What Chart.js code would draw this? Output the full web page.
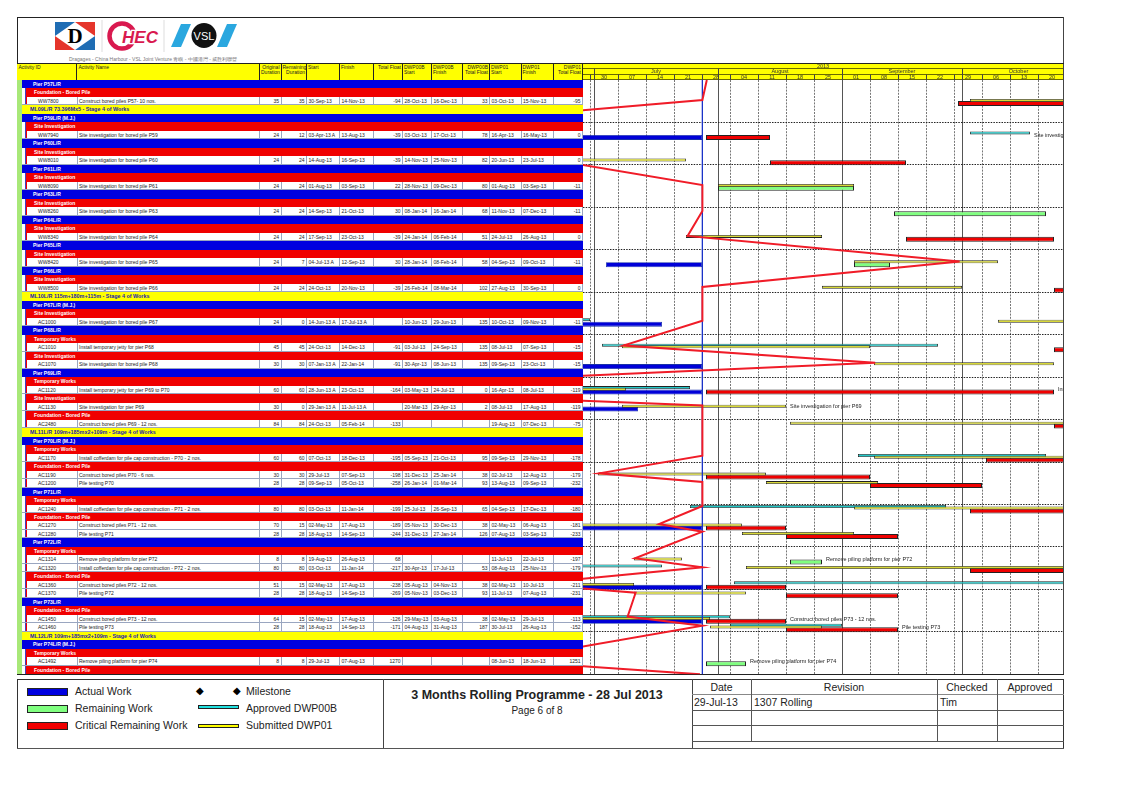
<!DOCTYPE html>
<html><head><meta charset="utf-8">
<script src="https://cdn.jsdelivr.net/npm/chart.js@4"></script>
<style>
html,body{margin:0;padding:0;background:#fff;width:1123px;height:794px;overflow:hidden;font-family:"Liberation Sans",Arial,sans-serif}
#page{position:absolute;left:0;top:0;width:1123px;height:794px}
.a{position:absolute;white-space:nowrap}
#chart{position:absolute;left:0;top:0;z-index:5}
.r{position:absolute;left:22px;width:561px;height:8.5px;line-height:8.5px;font-size:5px;overflow:hidden}
.c{position:absolute;top:0;height:100%;white-space:nowrap;color:#222;box-sizing:border-box;padding:0 1.5px;border-right:.5px solid #9aa6c0}
.h{position:absolute;top:64px;height:16px;font-size:5px;line-height:5.4px;color:#222;border-right:.7px solid #222;box-sizing:border-box;padding:1px;z-index:2}
.leg{position:absolute;font-size:10.5px;color:#222;white-space:nowrap}
</style></head><body>
<div id="page">
<svg class="a" style="left:50px;top:18px" width="200" height="38" viewBox="50 18 200 38">
  <rect x="55" y="22" width="40" height="28" fill="#fff"/>
  <polygon points="55,22 75,22 55,36" fill="#1f6db4"/><polygon points="75,22 95,22 95,36" fill="#e5352b"/>
  <polygon points="55,36 75,50 55,50" fill="#e5352b"/><polygon points="95,36 95,50 75,50" fill="#1f6db4"/>
  <text x="75" y="43" font-family="Liberation Serif" font-weight="bold" font-size="21" text-anchor="middle">D</text>
  <line x1="102" y1="20" x2="102" y2="52" stroke="#ddd"/>
  <ellipse cx="122" cy="36" rx="12.5" ry="12.5" fill="none" stroke="#d9194f" stroke-width="4.5"/>
  <text x="140" y="42.5" font-family="Liberation Sans" font-weight="bold" font-style="italic" font-size="17" fill="#d9194f" text-anchor="middle" stroke="#fff" stroke-width="2.5" paint-order="stroke">HEC</text>
  <line x1="164" y1="20" x2="164" y2="52" stroke="#ddd"/>
  <polygon points="181,24 191,24 181,47 171,47" fill="#2aa7df"/>
  <polygon points="227,24 237,24 227,47 217,47" fill="#2aa7df"/>
  <circle cx="204" cy="35.5" r="12.5" fill="#111"/>
  <text x="204" y="39.5" font-family="Liberation Sans" font-size="11" fill="#fff" text-anchor="middle">VSL</text>
</svg>
<div class="a" style="left:69px;top:55.5px;font-size:5px;color:#777">Dragages - China Harbour - VSL Joint Venture 青嶼 - 中國港灣 - 威胜利聯營</div>
<div id="table"></div>
<div id="foot"></div>
</div>
<canvas id="chart" width="1123" height="794"></canvas>
<script>
// ---- Rows of the schedule, top to bottom
const rowKinds = "PSAMPSAPSAPSAPSAPSAPSAPSAMPSAPSASAPSASASAMPSASAAPSASAAPSAASAAPSAAMPSAS".split("");
const bandTitles = ["Pier P57L/R","Foundation - Bored Pile","ML09L/R 73.396Mx5 - Stage 4 of Works","Pier P59L/R (M.J.)","Site Investigation","Pier P60L/R","Site Investigation","Pier P61L/R","Site Investigation","Pier P63L/R","Site Investigation","Pier P64L/R","Site Investigation","Pier P65L/R","Site Investigation","Pier P66L/R","Site Investigation","ML10L/R 115m+180m+115m - Stage 4 of Works","Pier P67L/R (M.J.)","Site Investigation","Pier P68L/R","Temporary Works","Site Investigation","Pier P69L/R","Temporary Works","Site Investigation","Foundation - Bored Pile","ML11L/R 109m+185mx2+109m - Stage 4 of Works","Pier P70L/R (M.J.)","Temporary Works","Foundation - Bored Pile","Pier P71L/R","Temporary Works","Foundation - Bored Pile","Pier P72L/R","Temporary Works","Foundation - Bored Pile","Pier P73L/R","Foundation - Bored Pile","ML12L/R 109m+185mx2+109m - Stage 4 of Works","Pier P74L/R (M.J.)","Temporary Works","Foundation - Bored Pile"];

// ---- Activity table columns
const activityIds = ["WW7800","WW7940","WW8010","WW8090","WW8260","WW8340","WW8420","WW8500","AC1000","AC1010","AC1070","AC1120","AC1130","AC2480","AC1170","AC1190","AC1200","AC1240","AC1270","AC1280","AC1314","AC1320","AC1360","AC1370","AC1450","AC1460","AC1492"];
const activityNames = ["Construct bored piles P57- 10 nos.","Site investigation for bored pile P59","Site investigation for bored pile P60","Site investigation for bored pile P61","Site investigation for bored pile P63","Site investigation for bored pile P64","Site investigation for bored pile P65","Site investigation for bored pile P66","Site investigation for bored pile P67","Install temporary jetty for pier P68","Site investigation for bored pile P68","Install temporary jetty for pier P69 to P70","Site investigation for pier P69","Construct bored piles P69 - 12 nos.","Install cofferdam for pile cap construction - P70 - 2 nos.","Construct bored piles P70 - 6 nos.","Pile testing P70","Install cofferdam for pile cap construction - P71 - 2 nos.","Construct bored piles P71 - 12 nos.","Pile testing P71","Remove piling platform for pier P72","Install cofferdam for pile cap construction - P72 - 2 nos.","Construct bored piles P72 - 12 nos.","Pile testing P72","Construct bored piles P73 - 12 nos.","Pile testing P73","Remove piling platform for pier P74"];
const originalDuration = [35,24,24,24,24,24,24,24,24,45,30,60,30,84,60,30,28,80,70,28,8,80,51,28,64,28,8];
const remainingDuration = [35,12,24,24,24,24,7,24,0,45,30,60,0,84,60,30,28,80,15,28,8,80,15,28,15,28,8];
const startDates = ["30-Sep-13","03-Apr-13 A","14-Aug-13","01-Aug-13","14-Sep-13","17-Sep-13","04-Jul-13 A","24-Oct-13","14-Jun-13 A","24-Oct-13","07-Jan-13 A","28-Jun-13 A","29-Jan-13 A","24-Oct-13","07-Oct-13","29-Jul-13","09-Sep-13","03-Oct-13","02-May-13","18-Aug-13","19-Aug-13","03-Oct-13","02-May-13","18-Aug-13","02-May-13","18-Aug-13","29-Jul-13"];
const finishDates = ["14-Nov-13","13-Aug-13","16-Sep-13","03-Sep-13","21-Oct-13","23-Oct-13","12-Sep-13","20-Nov-13","17-Jul-13 A","14-Dec-13","22-Jan-14","23-Oct-13","11-Jul-13 A","05-Feb-14","18-Dec-13","07-Sep-13","05-Oct-13","11-Jan-14","17-Aug-13","14-Sep-13","26-Aug-13","11-Jan-14","17-Aug-13","14-Sep-13","17-Aug-13","14-Sep-13","07-Aug-13"];
const totalFloat = ["-94","-39","-39","22","30","-39","30","-39","","-91","-91","-164","","-133","-195","-198","-258","-199","-189","-244","68","-217","-238","-269","-126","-171","1270"];
const dwp00bStart = ["28-Oct-13","03-Oct-13","14-Nov-13","28-Nov-13","08-Jan-14","24-Jan-14","28-Jan-14","26-Feb-14","10-Jun-13","03-Jul-13","30-Apr-13","03-May-13","20-Mar-13","","05-Sep-13","31-Dec-13","26-Jan-14","25-Jul-13","05-Nov-13","31-Dec-13","","30-Apr-13","05-Aug-13","05-Nov-13","29-May-13","04-Aug-13",""];
const dwp00bFinish = ["16-Dec-13","17-Oct-13","25-Nov-13","09-Dec-13","16-Jan-14","06-Feb-14","08-Feb-14","08-Mar-14","29-Jun-13","24-Sep-13","08-Jun-13","24-Jul-13","29-Apr-13","","21-Oct-13","25-Jan-14","01-Mar-14","26-Sep-13","30-Dec-13","27-Jan-14","","17-Jul-13","04-Nov-13","03-Dec-13","03-Aug-13","31-Aug-13",""];
const dwp00bFloat = ["33","78","82","80","68","51","58","102","135","135","135","0","2","","95","38","93","65","38","126","","53","38","93","38","187",""];
const dwp01Start = ["03-Oct-13","16-Apr-13","20-Jun-13","01-Aug-13","11-Nov-13","24-Jul-13","04-Sep-13","27-Aug-13","10-Oct-13","08-Jul-13","09-Sep-13","16-Apr-13","08-Jul-13","19-Aug-13","09-Sep-13","02-Jul-13","13-Aug-13","04-Sep-13","02-May-13","07-Aug-13","11-Jul-13","08-Aug-13","02-May-13","11-Jul-13","02-May-13","30-Jul-13","08-Jun-13"];
const dwp01Finish = ["15-Nov-13","16-May-13","23-Jul-13","03-Sep-13","07-Dec-13","26-Aug-13","09-Oct-13","30-Sep-13","09-Nov-13","07-Sep-13","23-Oct-13","08-Jul-13","17-Aug-13","07-Dec-13","29-Nov-13","12-Aug-13","09-Sep-13","17-Dec-13","06-Aug-13","03-Sep-13","22-Jul-13","25-Nov-13","10-Jul-13","07-Aug-13","29-Jul-13","26-Aug-13","18-Jun-13"];
const dwp01Float = ["-95","0","0","-11","-11","0","-11","0","-11","-15","-15","-119","-119","-75","-178","-179","-232","-180","-181","-233","-197","-179","-211","-231","-113","-152","1251"];

// ---- Bars on the time line
const dataDate = "28-Jul-13";
const actualIds = ["WW7940","WW8420","AC1000","AC1070","AC1120","AC1130","AC1270","AC1360","AC1450"];
const actualFinish = [dataDate,dataDate,"17-Jul-13",dataDate,dataDate,"11-Jul-13",dataDate,dataDate,dataDate];
const remainingIds = ["WW8090","WW8260","WW8420","AC1314","AC1492"];
const remainingStart = ["01-Aug-13","14-Sep-13","04-Sep-13","19-Aug-13","29-Jul-13"];
const criticalIds = ["WW7800","WW7940","WW8010","WW8340","WW8500","AC1010","AC1120","AC2480","AC1170","AC1190","AC1200","AC1240","AC1270","AC1280","AC1320","AC1360","AC1370","AC1450","AC1460"];
const criticalStart = ["30-Sep-13","29-Jul-13","14-Aug-13","17-Sep-13","24-Oct-13","24-Oct-13","29-Jul-13","24-Oct-13","07-Oct-13","29-Jul-13","08-Sep-13","03-Oct-13","29-Jul-13","18-Aug-13","03-Oct-13","29-Jul-13","18-Aug-13","29-Jul-13","18-Aug-13"];
const labelledIds = ["WW7940","AC1120","AC1130","AC1314","AC1450","AC1460","AC1492"];

// ---- Progress line (days after 1 Jul 2013, row position)
const progressDays = [28.2,27.1,-76,-11,27.1,27.1,23.4,91.4,27.1,27.1,7.35,70.3,-76,27.1,27.1,1.3,27.1,27.1,16.25,27.1,10.25,27.1,-16.25,10.4,8.4,27.1,-23,26.5];
const progressRows = [0,2.36,6.48,9.36,12.37,15.43,18.37,21.38,24.38,28.35,31.28,33.3,36.4,38.34,44.25,46.33,47.35,50.18,52.3,53.2,56.34,57.4,59.36,60.39,63.2,64.27,68.4,70];

// ---- Time axis
const weekStarts = ["30-Jun-13","07-Jul-13","14-Jul-13","21-Jul-13","28-Jul-13","04-Aug-13","11-Aug-13","18-Aug-13","25-Aug-13","01-Sep-13","08-Sep-13","15-Sep-13","22-Sep-13","29-Sep-13","06-Oct-13","13-Oct-13","20-Oct-13"];
const weekLabels = ["30","07","14","21","28","04","11","18","25","01","08","15","22","29","06","13","20"];
const monthStarts = ["01-Jul-13","01-Aug-13","01-Sep-13","01-Oct-13"];
const monthLabels = ["July","August","September","October"];
const yearLabel = "2013";

const MON={Jan:0,Feb:1,Mar:2,Apr:3,May:4,Jun:5,Jul:6,Aug:7,Sep:8,Oct:9,Nov:10,Dec:11};
function day(s){const m=s.match(/(\d+)-(\w+)-(\d+)/);return (Date.UTC(2000+ +m[3],MON[m[2]],+m[1])-Date.UTC(2013,6,1))/864e5;}

// layout constants
const ROW_TOP=80, ROW_H=8.49, X_L=583, X_R=1063, BOT=ROW_TOP+70*ROW_H;
const colX=[22,77.5,260,281.5,307,340,374,403,432,463,490,521.5,554,583];

const rowOf={}; { let a=0; rowKinds.forEach((k,i)=>{ if(k==='A'){rowOf[activityIds[a++]]=i;} }); }
const idx=id=>activityIds.indexOf(id);

// ---- table as real text
(function(){
 const t=document.getElementById('table'); let html='';
 const add=(x,y,w,h,c,extra)=>`<div class="a" style="left:${x}px;top:${y}px;width:${w}px;height:${h}px;background:${c};${extra||''}"></div>`;
 html+=add(17,17,1046.5,.8,'#222')+add(16.6,17,.8,657.5,'#222')+add(1063,17,1,657.5,'#444')+add(17,674,1047,1,'#222')+add(17,63,1046.5,.9,'#222');
 html+=add(17.4,64,565.6,16,'#ffff00')+add(583,64,480,16,'#ffff00');
 html+=add(17.4,80,4.4,594,'#a8e878');
 html+=add(583,68,480,.7,'#6b6b00')+add(583,73.8,480,.8,'#6b6b00')+add(583,79.4,480,1,'#6b6b00')+add(582,64,1.2,16,'#222');
 const heads=[["Activity ID","l",17.4],["Activity Name","l",77.5],["Original<br>Duration","r",260],["Remaining<br>Duration","r",281.5],["Start","l",307],["Finish","l",340],["Total Float","r",374],["DWP00B<br>Start","l",403],["DWP00B<br>Finish","l",432],["DWP00B<br>Total Float","r",463],["DWP01<br>Start","l",490],["DWP01<br>Finish","l",521.5],["DWP01<br>Total Float","r",554]];
 const ends=colX.slice(1);
 heads.forEach((h,i)=>{html+=`<div class="h" style="left:${h[2]}px;width:${ends[i]-h[2]}px;text-align:${h[1]==='r'?'right':'left'}">${h[0]}</div>`;});
 let b=0,a=0;
 rowKinds.forEach((k,i)=>{
  const y=ROW_TOP+i*ROW_H;
  if(k==='P'){html+=`<div class="r" style="top:${y}px;background:#0000e0"><span class="a" style="left:11px;color:#fff;font-weight:bold">${bandTitles[b++]}</span></div>`;}
  else if(k==='M'){html+=`<div class="r" style="top:${y}px;background:#ffff00"><span class="a" style="left:8px;color:#2020b0;font-weight:bold;font-size:5.4px">${bandTitles[b++]}</span></div>`;}
  else if(k==='S'){html+=`<div class="r" style="top:${y}px;background:#fff"><div class="a" style="left:3px;width:558px;height:100%;background:#f00000;border-left:.6px solid #4040c0"></div><span class="a" style="left:12px;color:#fff;font-weight:bold">${bandTitles[b++]}</span></div>`;}
  else{
   const vals=[activityIds[a],activityNames[a],originalDuration[a],remainingDuration[a],startDates[a],finishDates[a],totalFloat[a],dwp00bStart[a],dwp00bFinish[a],dwp00bFloat[a],dwp01Start[a],dwp01Finish[a],dwp01Float[a]];
   const right=[2,3,6,9,12];
   let cells='';
   vals.forEach((v,j)=>{
    const L=colX[j]-22,W=colX[j+1]-colX[j];
    if(j===0) cells+=`<div class="c" style="left:5px;width:${W-5}px;padding-left:11px;background:#fff">${v}</div>`;
    else cells+=`<div class="c" style="left:${L}px;width:${W}px;text-align:${right.includes(j)?'right':'left'}">${v}</div>`;
   });
   html+=`<div class="r" style="top:${y}px;background:#fff;border-bottom:.4px solid #9aa6c0;box-sizing:border-box"><div class="a" style="left:3px;width:2px;height:100%;background:#f00000;border-left:.6px solid #4040c0"></div>${cells}</div>`;
   a++;
  }
 });
 t.innerHTML=html;
 const F=document.getElementById('foot'); let f='';
 f+=add(17,679,1047,.9,'#333')+add(17,747.6,1047,1,'#555')+add(17,679,.9,69,'#333')+add(1063.4,679,.9,69,'#333')+add(383,679,.9,69,'#444')+add(691.5,679,.9,69,'#444');
 f+=add(692,693.5,372,1.2,'#888')+add(692,710,372,.8,'#555')+add(692,725,372,.8,'#555')+add(692,740.5,372,.8,'#555');
 f+=add(751,679,.8,61.5,'#555')+add(937,679,.8,61.5,'#555')+add(997,679,.8,61.5,'#555');
 const sw=(x,y,w,h,c,bw)=>`<div class="a" style="left:${x}px;top:${y}px;width:${w}px;height:${h}px;background:${c};border:${bw}px solid #222;box-sizing:border-box"></div>`;
 f+=sw(27,688,41,8,'#0000e0',1)+sw(27,705,41,8,'#80ff80',1)+sw(27,722,41,8,'#f00000',1)+sw(198,705,41,4,'#20e0e0',1)+sw(198,724,41,4,'#ffff00',1);
 f+=`<div class="leg" style="left:75px;top:685px">Actual Work</div><div class="leg" style="left:75px;top:702px">Remaining Work</div><div class="leg" style="left:75px;top:719px">Critical Remaining Work</div>`;
 f+=`<div class="leg" style="left:195.5px;top:685px;font-size:10px;color:#000">◆</div><div class="leg" style="left:232.5px;top:685px;font-size:10px;color:#000">◆</div>`;
 f+=`<div class="leg" style="left:246px;top:685px">Milestone</div><div class="leg" style="left:246px;top:702px">Approved DWP00B</div><div class="leg" style="left:246px;top:719px">Submitted DWP01</div>`;
 f+=`<div class="leg" style="left:383px;width:308px;text-align:center;top:688px;font-size:12.5px;font-weight:bold">3 Months Rolling Programme - 28 Jul 2013</div>`;
 f+=`<div class="leg" style="left:383px;width:308px;text-align:center;top:705px;font-size:10px">Page 6 of 8</div>`;
 [["Date",692,59],["Revision",751,186],["Checked",937,60],["Approved",997,66]].forEach(h=>{f+=`<div class="leg" style="left:${h[1]}px;width:${h[2]}px;text-align:center;top:680.5px">${h[0]}</div>`;});
 f+=`<div class="leg" style="left:694px;top:695.5px">29-Jul-13</div><div class="leg" style="left:754px;top:695.5px">1307 Rolling</div><div class="leg" style="left:940px;top:695.5px">Tim</div>`;
 F.innerHTML=f;
})();

// ---- Gantt chart
const OFF_BASE=-0.27, OFF_SUB=-0.08, OFF_MAIN=0.26;
const bar=(id,s,e,off)=>({x:[s,e],y:rowOf[id]+0.5+off});
const baseData=[],subData=[];
activityIds.forEach((id,i)=>{
 if(dwp00bStart[i]) baseData.push(bar(id,day(dwp00bStart[i]),day(dwp00bFinish[i])+1,OFF_BASE));
 if(dwp01Start[i]) subData.push(bar(id,day(dwp01Start[i]),day(dwp01Finish[i])+1,OFF_SUB));
});
const actualData=actualIds.map((id,i)=>bar(id,day(startDates[idx(id)]),day(actualFinish[i])+(actualFinish[i]===dataDate?0:1),OFF_MAIN));
const remainingData=remainingIds.map((id,i)=>bar(id,day(remainingStart[i]),day(finishDates[idx(id)])+1,OFF_MAIN));
const criticalData=criticalIds.map((id,i)=>bar(id,day(criticalStart[i]),day(finishDates[idx(id)])+1,OFF_MAIN));

const barSet=(label,data,bg,bd,th,bw,order)=>({type:'bar',label,data,backgroundColor:bg,borderColor:bd,borderWidth:bw,borderSkipped:false,barThickness:th,grouped:false,inflateAmount:0,order,indexAxis:'y'});
const datasets=[
 barSet('Approved DWP00B',baseData,'#22c8c8','#222',3,.8,6),
 barSet('Actual Work',actualData,'#0000d8','#1830a8',5,.8,5),
 barSet('Remaining Work',remainingData,'#80ff80','#222',5,1,5),
 barSet('Critical Remaining Work',criticalData,'#f00000','#222',5,1,5),
 barSet('Submitted DWP01',subData,'#d8d838','#222',3,.8,4),
 {type:'line',label:'Data date',data:[{x:day(dataDate)+.1,y:0},{x:day(dataDate)+.1,y:70}],borderColor:'#1c34c8',borderWidth:1,pointRadius:0,order:3,indexAxis:'y'},
 {type:'line',label:'Progress',data:progressDays.map((d,i)=>({x:d,y:progressRows[i]})),borderColor:'#f01c28',borderWidth:2,pointRadius:0,tension:0,order:1,indexAxis:'y'}
];

const XMIN=(X_L-594)/4, XMAX=(X_R-594)/4;
const mid=(a,b)=>(a+b)/2;
const weekDays=weekStarts.map(day), monthDays=monthStarts.map(day);
const weekMid=weekDays.map(d=>d+3.5);
const monthMid=[mid(0,31),mid(31,62),mid(62,92),mid(92,XMAX+3)];
const setTicks=a=>s=>{s.ticks=a.map(v=>({value:v}));};
const fixH=h=>s=>{s.height=h;};
const font={family:'"Liberation Sans",Arial,sans-serif',size:5.5};
const labelAxis=(arr,labels,h,weight)=>({type:'linear',axis:'x',position:'top',min:XMIN,max:XMAX,weight,afterFit:fixH(h),afterBuildTicks:setTicks(arr),
  grid:{display:false,drawTicks:false},border:{display:false},
  ticks:{autoSkip:false,maxRotation:0,padding:-1,color:'#333',font,callback:(v,i)=>labels[i]}});
const gridLabels={
 id:'barLabels',
 afterDatasetsDraw(c){
  const g=c.ctx,a=c.chartArea,x=c.scales.x,y=c.scales.y;
  g.save();g.beginPath();g.rect(a.left,a.top,a.width,a.height);g.clip();
  g.font='5.5px "Liberation Sans",Arial,sans-serif';g.fillStyle='#222';g.textBaseline='middle';
  labelledIds.forEach(id=>{
    const i=idx(id);
    let end=day(finishDates[i])+1;
    [dwp00bFinish[i],dwp01Finish[i]].forEach(s=>{if(s)end=Math.max(end,day(s)+1);});
    g.fillText(activityNames[i],x.getPixelForValue(end)+4,y.getPixelForValue(rowOf[id]+.5));
  });
  g.restore();
 }
};
new Chart(document.getElementById('chart'),{
 data:{datasets},
 plugins:[gridLabels],
 options:{
  indexAxis:'y',responsive:false,animation:false,devicePixelRatio:1,
  layout:{padding:{left:X_L,right:1123-X_R,top:64,bottom:794-BOT}},
  plugins:{legend:{display:false},tooltip:{enabled:false},title:{display:false}},
  scales:{
   x:{type:'linear',position:'top',min:XMIN,max:XMAX,weight:0,afterBuildTicks:setTicks(weekDays),afterFit:fixH(0),
      grid:{color:'#777',lineWidth:1,tickLength:5.6,tickColor:'#444'},border:{display:false,dash:[2,1.2]},ticks:{display:false}},
   xMonthGrid:{type:'linear',axis:'x',position:'top',min:XMIN,max:XMAX,weight:1,afterBuildTicks:setTicks(monthDays),afterFit:fixH(0),
      grid:{color:'#555',lineWidth:1,tickLength:11.5,tickColor:'#444'},border:{display:false},ticks:{display:false}},
   xWeek:labelAxis(weekMid,weekLabels,5.8,2),
   xMonth:labelAxis(monthMid,monthLabels,5.8,3),
   xYear:labelAxis([57.25],[yearLabel],4.4,4),
   y:{type:'linear',position:'left',offset:false,min:0,max:70,reverse:true,afterBuildTicks:setTicks([5,10,15,20,25,30,35,40,45,50,55,60,65]),afterFit:s=>{s.width=0;},
      grid:{offset:false,color:'#222',lineWidth:1,drawTicks:false},border:{display:false,dash:[1.5,1.2]},ticks:{display:false}}
  }
 }
});
</script>
</body></html>
